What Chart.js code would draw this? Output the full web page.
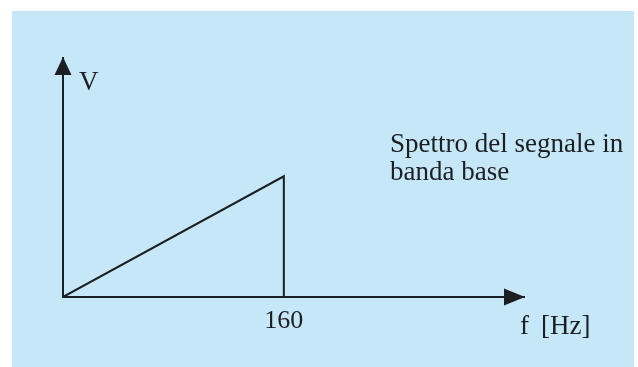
<!DOCTYPE html>
<html>
<head>
<meta charset="utf-8">
<script src="https://cdn.jsdelivr.net/npm/chart.js@4/dist/chart.umd.min.js"></script>
<style>
  html, body { margin: 0; padding: 0; background: #fff; }
  canvas { display: block; }
</style>
</head>
<body>
<canvas id="spettro" width="638" height="367"></canvas>
<script>
// dati dello spettro (frequenza in Hz, ampiezza relativa)
const freq = [0, 160, 160];
const ampiezza = [0, 1, 0];
const tickFreq = [160];

const INK = "#1c1f22";
const FONT = "'Liberation Serif', 'DejaVu Serif', serif";

// sfondo azzurro e frecce sugli assi + scritte
const decorPlugin = {
  id: "decor",
  beforeDraw(chart) {
    const ctx = chart.ctx;
    ctx.save();
    ctx.fillStyle = "#fff";
    ctx.fillRect(0, 0, chart.width, chart.height);
    ctx.fillStyle = "#c6e7f7";
    ctx.fillRect(12, 11, 622, chart.height - 11);
    ctx.restore();
  },
  afterDraw(chart) {
    const ctx = chart.ctx;
    const a = chart.chartArea;
    const x0 = chart.scales.x.getPixelForValue(0);
    const y0 = chart.scales.y.getPixelForValue(0);
    ctx.save();
    ctx.fillStyle = INK;
    // freccia asse y
    ctx.beginPath();
    ctx.moveTo(x0, a.top - 1);
    ctx.lineTo(x0 - 8.5, a.top + 17);
    ctx.lineTo(x0 + 8.5, a.top + 17);
    ctx.closePath();
    ctx.fill();
    // freccia asse x
    ctx.beginPath();
    ctx.moveTo(a.right + 1, y0);
    ctx.lineTo(a.right - 20, y0 - 8.5);
    ctx.lineTo(a.right - 20, y0 + 8.5);
    ctx.closePath();
    ctx.fill();

    ctx.textBaseline = "alphabetic";
    ctx.textAlign = "left";
    ctx.font = "27px " + FONT;
    ctx.fillText("V", 79, 90);
    ctx.fillText("f", 520, 334);
    ctx.fillText("[Hz]", 541, 334);
    ctx.fillText("Spettro del segnale in", 390, 152);
    ctx.fillText("banda base", 390, 180);
    ctx.restore();
  }
};

document.addEventListener("DOMContentLoaded", function () {
  const canvas = document.getElementById("spettro");

  new Chart(canvas.getContext("2d"), {
    type: "line",
    data: {
      datasets: [{
        data: freq.map((f, i) => ({ x: f, y: ampiezza[i] })),
        borderColor: INK,
        borderWidth: 2,
        pointRadius: 0,
        tension: 0,
        fill: false
      }]
    },
    options: {
      responsive: false,
      animation: false,
      layout: { padding: { left: 63, top: 58, right: 114, bottom: 0 } },
      plugins: { legend: { display: false }, tooltip: { enabled: false } },
      scales: {
        x: {
          type: "linear",
          min: 0,
          max: 334,
          grid: { display: false, drawTicks: false },
          border: { display: true, color: INK, width: 2 },
          afterBuildTicks: s => { s.ticks = tickFreq.map(v => ({ value: v })); },
          afterFit: s => { s.height = 70; },
          ticks: {
            color: INK,
            font: { family: FONT, size: 26 },
            padding: 9,
            maxRotation: 0,
            autoSkip: false,
            callback: v => String(v)
          }
        },
        y: {
          min: 0,
          max: 1.98,
          grid: { display: false, drawTicks: false },
          border: { display: true, color: INK, width: 2 },
          ticks: { display: false },
          afterFit: s => { s.width = 0; }
        }
      }
    },
    plugins: [decorPlugin]
  });
});
</script>
</body>
</html>
